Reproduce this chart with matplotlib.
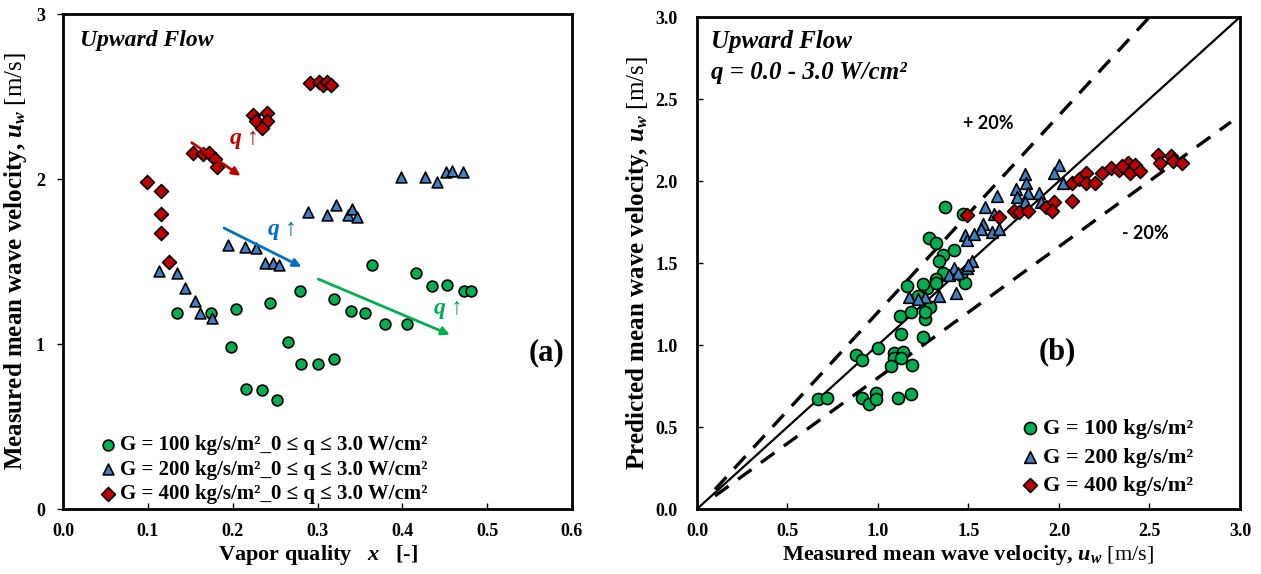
import numpy as np
import matplotlib
matplotlib.use('Agg')
import matplotlib.pyplot as plt

plt.rcParams['font.family'] = ['Liberation Serif', 'DejaVu Serif']
plt.rcParams['mathtext.fontset'] = 'custom'
plt.rcParams['mathtext.it'] = 'Liberation Serif:italic:bold'
plt.rcParams['mathtext.rm'] = 'Liberation Serif'
plt.rcParams['mathtext.bf'] = 'Liberation Serif:bold'

# ---------------- (a) velocidade medida x titulo de vapor ----------------
g100_x = [0.364, 0.416, 0.435, 0.453, 0.473, 0.481, 0.279, 0.244, 0.204, 0.134, 0.174, 0.320,
          0.339, 0.356, 0.380, 0.405, 0.198, 0.265, 0.280, 0.300, 0.319, 0.216, 0.235, 0.252]
g100_u = [1.48, 1.43, 1.35, 1.36, 1.32, 1.32, 1.32, 1.25, 1.21, 1.19, 1.19, 1.27,
          1.20, 1.19, 1.12, 1.12, 0.98, 1.01, 0.88, 0.88, 0.91, 0.73, 0.72, 0.66]

g200_x = [0.399, 0.427, 0.441, 0.452, 0.459, 0.471, 0.289, 0.311, 0.322, 0.336, 0.341, 0.346,
          0.194, 0.215, 0.228, 0.238, 0.247, 0.255, 0.113, 0.134, 0.144, 0.155, 0.161, 0.176]
g200_u = [2.01, 2.01, 1.98, 2.04, 2.05, 2.04, 1.80, 1.78, 1.84, 1.78, 1.82, 1.77,
          1.60, 1.59, 1.58, 1.49, 1.49, 1.48, 1.44, 1.43, 1.34, 1.26, 1.19, 1.16]

g400_x = [0.291, 0.302, 0.306, 0.311, 0.316, 0.224, 0.240, 0.228, 0.240, 0.234,
          0.153, 0.165, 0.172, 0.179, 0.181, 0.099, 0.115, 0.115, 0.116, 0.125]
g400_u = [2.58, 2.59, 2.57, 2.59, 2.57, 2.39, 2.40, 2.35, 2.35, 2.31,
          2.16, 2.15, 2.16, 2.12, 2.07, 1.98, 1.93, 1.79, 1.67, 1.50]

# setas "q aumenta" (inicio, fim) em coordenadas de dados
seta_400 = [(0.149, 2.23), (0.212, 2.01)]
seta_200 = [(0.187, 1.71), (0.284, 1.46)]
seta_100 = [(0.298, 1.40), (0.459, 1.05)]

# ---------------- (b) medida x prevista ----------------
b100_med = [1.37, 1.47, 1.28, 1.32, 1.36, 1.42, 1.34, 1.36, 1.32, 1.46, 1.27,
            1.16, 1.25, 1.32, 1.48, 1.22, 1.29, 1.12, 1.18, 1.26, 1.26, 1.13, 1.25,
            1.00, 0.88, 0.91, 1.09, 1.14, 1.09, 1.13, 1.07, 1.19,
            0.67, 0.72, 0.91, 0.95, 0.99, 0.99, 1.11, 1.18]
b100_pred = [1.84, 1.80, 1.65, 1.62, 1.55, 1.58, 1.51, 1.44, 1.40, 1.43, 1.35,
             1.36, 1.37, 1.38, 1.38, 1.30, 1.23, 1.18, 1.20, 1.16, 1.20, 1.07, 1.05,
             0.98, 0.94, 0.91, 0.95, 0.96, 0.92, 0.92, 0.87, 0.88,
             0.67, 0.68, 0.68, 0.64, 0.71, 0.67, 0.68, 0.70]

b200_med = [1.66, 1.59, 1.64, 1.58, 1.57, 1.48, 1.49, 1.53, 1.63, 1.52, 1.49, 1.42, 1.39,
            1.44, 1.43, 1.34, 1.17, 1.26, 2.00, 1.97, 2.02, 1.81, 1.82, 1.76, 1.83, 1.77,
            1.81, 1.89, 1.90, 1.67, 1.50, 1.22]
b200_pred = [1.91, 1.84, 1.80, 1.74, 1.71, 1.67, 1.64, 1.68, 1.69, 1.51, 1.47, 1.47, 1.43,
             1.44, 1.32, 1.30, 1.29, 1.29, 2.10, 2.05, 1.99, 2.04, 1.99, 1.95, 1.93, 1.90,
             1.87, 1.93, 1.87, 1.71, 1.49, 1.28]

b400_med = [1.49, 2.07, 2.11, 2.15, 2.15, 2.20, 2.24, 2.07, 2.29, 2.33, 2.38, 2.39, 2.42,
            2.45, 2.35, 2.55, 2.56, 2.62, 2.63, 2.68, 1.75, 1.78, 1.83, 1.93, 1.97, 1.96, 1.67]
b400_pred = [1.79, 1.99, 2.01, 2.05, 1.99, 1.99, 2.05, 1.88, 2.08, 2.07, 2.11, 2.05, 2.10,
             2.06, 2.09, 2.16, 2.11, 2.15, 2.12, 2.11, 1.82, 1.81, 1.82, 1.84, 1.87, 1.82, 1.78]

verde = '#00B050'
azul = '#3F7FC4'
vermelho = '#C00000'

fig = plt.figure(figsize=(12.61, 5.74), dpi=100)
ax1 = fig.add_axes([0.050, 0.1132, 0.4036, 0.8624])
ax2 = fig.add_axes([0.5527, 0.1132, 0.4306, 0.8571])

kw = dict(edgecolors='black', linewidths=1.2, zorder=3)

# ======================= painel (a) =======================
ax1.scatter(g100_x, g100_u, s=60, marker='o', c=verde, label='G = 100 kg/s/m²_0 ≤ q ≤ 3.0 W/cm²', **kw)
ax1.scatter(g200_x, g200_u, s=60, marker='^', c=azul, label='G = 200 kg/s/m²_0 ≤ q ≤ 3.0 W/cm²', **kw)
ax1.scatter(g400_x, g400_u, s=50, marker='D', c=vermelho, label='G = 400 kg/s/m²_0 ≤ q ≤ 3.0 W/cm²', **kw)

for seta, cor in [(seta_400, vermelho), (seta_200, '#0070C0'), (seta_100, verde)]:
    ax1.annotate('', xy=seta[1], xytext=seta[0],
                 arrowprops=dict(arrowstyle='-|>', color=cor, lw=2, mutation_scale=12))

ax1.text(0.212, 2.24, r'$q$ ↑', color=vermelho, fontsize=17, ha='center', va='center')
ax1.text(0.257, 1.69, r'$q$ ↑', color='#0070C0', fontsize=17, ha='center', va='center')
ax1.text(0.453, 1.21, r'$q$ ↑', color=verde, fontsize=17, ha='center', va='center')

ax1.text(0.02, 2.84, 'Upward Flow', fontsize=17, fontweight='bold', style='italic', va='center')
ax1.text(0.570, 0.95, '(a)', fontsize=22, fontweight='bold', ha='center', va='center')

ax1.set_xlim(0, 0.6)
ax1.set_ylim(0, 3)
ax1.set_xticks([0.0, 0.1, 0.2, 0.3, 0.4, 0.5, 0.6])
ax1.set_xticklabels(['0.0', '0.1', '0.2', '0.3', '0.4', '0.5', '0.6'])
ax1.set_yticks([0, 1, 2, 3])
ax1.set_yticklabels(['0', '1', '2', '3'])
ax1.tick_params(axis='x', direction='in', length=4, width=1, pad=10, labelsize=13)
ax1.tick_params(axis='y', direction='out', length=4, width=1, pad=9, labelsize=13)
for lb in ax1.get_xticklabels() + ax1.get_yticklabels():
    lb.set_fontweight('bold')
ax1.set_xlabel(r'Vapor quality   $x$   [-]', fontsize=16, fontweight='bold', labelpad=2)
ax1.set_ylabel(r'Measured mean wave velocity, $u_w$ $\mathrm{[m/s]}$', fontsize=18,
               fontweight='bold', labelpad=5)
for sp in ax1.spines.values():
    sp.set_linewidth(2)

leg1 = ax1.legend(loc='lower left', bbox_to_anchor=(0.04, -0.02), frameon=False,
                  prop={'weight': 'bold', 'size': 15}, handletextpad=0.05, handlelength=1.0,
                  labelspacing=0.22, borderpad=0.2)

# ======================= painel (b) =======================
ax2.plot([0, 3], [0, 3], color='black', lw=1.6, zorder=1)
xs = np.array([0.1, 2.5])
ax2.plot(xs, 1.2 * xs, color='black', lw=2.4, dashes=(5, 3.5), zorder=1)
xs = np.array([0.1, 2.95])
ax2.plot(xs, 0.8 * xs, color='black', lw=2.4, dashes=(5, 3.5), zorder=1)

ax2.scatter(b100_med, b100_pred, s=75, marker='o', c=verde, label='G = 100 kg/s/m²', **kw)
ax2.scatter(b200_med, b200_pred, s=70, marker='^', c=azul, label='G = 200 kg/s/m²', **kw)
ax2.scatter(b400_med, b400_pred, s=50, marker='D', c=vermelho, label='G = 400 kg/s/m²', **kw)

ax2.text(0.08, 2.85, 'Upward Flow', fontsize=18, fontweight='bold', style='italic', va='center')
ax2.text(0.08, 2.66, 'q = 0.0 - 3.0 W/cm²', fontsize=18, fontweight='bold', style='italic', va='center')
ax2.text(1.61, 2.35, '+ 20%', fontsize=13, fontweight='bold', family=['Lato', 'DejaVu Sans'],
         ha='center', va='center')
ax2.text(2.48, 1.68, '- 20%', fontsize=13, fontweight='bold', family=['Lato', 'DejaVu Sans'],
         ha='center', va='center')
ax2.text(1.99, 0.96, '(b)', fontsize=22, fontweight='bold', ha='center', va='center')

ax2.set_xlim(0, 3)
ax2.set_ylim(0, 3)
ticks = [0.0, 0.5, 1.0, 1.5, 2.0, 2.5, 3.0]
ax2.set_xticks(ticks)
ax2.set_yticks(ticks)
ax2.set_xticklabels(['%.1f' % t for t in ticks])
ax2.set_yticklabels(['%.1f' % t for t in ticks])
ax2.tick_params(axis='both', direction='in', length=4, width=1, labelsize=13)
ax2.tick_params(axis='x', pad=10)
ax2.tick_params(axis='y', pad=14)
for lb in ax2.get_xticklabels() + ax2.get_yticklabels():
    lb.set_fontweight('bold')
ax2.set_xlabel(r'Measured mean wave velocity, $u_w$ $\mathrm{[m/s]}$', fontsize=16,
               fontweight='bold', labelpad=2)
ax2.set_ylabel(r'Predicted mean wave velocity, $u_w$ $\mathrm{[m/s]}$', fontsize=18,
               fontweight='bold', labelpad=3)
for sp in ax2.spines.values():
    sp.set_linewidth(2)

leg2 = ax2.legend(loc='lower left', bbox_to_anchor=(0.565, -0.005), frameon=False,
                  prop={'weight': 'bold', 'size': 16}, handletextpad=0.05, handlelength=1.0,
                  labelspacing=0.35, borderpad=0.2)

fig.savefig('out.png', dpi=100)
